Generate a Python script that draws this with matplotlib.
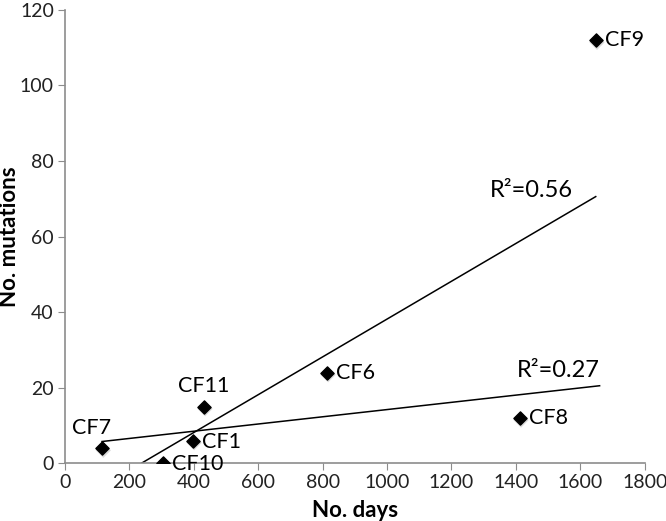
import numpy as np
import matplotlib
matplotlib.use("Agg")
import matplotlib.pyplot as plt

plt.rcParams['font.family'] = ['Lato', 'DejaVu Sans']

# patients, follow-up days and mutation counts
names = ["CF7", "CF10", "CF1", "CF11", "CF6", "CF8", "CF9"]
days = np.array([115, 305, 397, 431, 813, 1412, 1648])
mutations = np.array([4, 0, 6, 15, 24, 12, 112])

# label offsets (pixels) and alignment per point
label_pos = {
    "CF7": ((-10, 10), "center", "bottom"),
    "CF11": ((0, 11), "center", "bottom"),
    "CF1": ((9, -1), "left", "center"),
    "CF10": ((9, -1), "left", "center"),
    "CF6": ((9, 0), "left", "center"),
    "CF8": ((9, 0), "left", "center"),
    "CF9": ((9, 0), "left", "center"),
}

fig = plt.figure(figsize=(6.66, 5.21), dpi=100)
ax = fig.add_axes([0.0976, 0.111, 0.8704, 0.870])

# trend line without CF9
m = days < 1600
k1, b1 = np.polyfit(days[m], mutations[m], 1)
x1 = np.array([days.min(), 1660])
ax.plot(x1, k1 * x1 + b1, color="black", lw=1.1)

# trend line with all points, clipped at zero
k2, b2 = np.polyfit(days, mutations, 1)
x2 = np.array([-b2 / k2, days.max()])
ax.plot(x2, k2 * x2 + b2, color="black", lw=1.1)

ax.scatter(days + 4, mutations - 0.6, marker="D", s=60, color="#999999",
           alpha=0.35, edgecolors="none", zorder=2)
ax.scatter(days, mutations, marker="D", s=45, color="black", zorder=3)

for n, x, y in zip(names, days, mutations):
    off, ha, va = label_pos[n]
    ax.annotate(n, (x, y), xytext=off, textcoords="offset pixels",
                ha=ha, va=va, fontsize=15.5)

ax.text(1318, 70.5, "R²=0.56", fontsize=17, ha="left", va="baseline")
ax.text(1403, 22.8, "R²=0.27", fontsize=17, ha="left", va="baseline")

ax.set_xlim(0, 1800)
ax.set_ylim(0, 120)
ax.set_xticks(np.arange(0, 1801, 200))
ax.set_yticks(np.arange(0, 121, 20))
for s in ["top", "right"]:
    ax.spines[s].set_visible(False)
for s in ["left", "bottom"]:
    ax.spines[s].set_color("#8c8c8c")
    ax.spines[s].set_linewidth(1.2)
ax.tick_params(direction="out", length=5, color="#8c8c8c", labelsize=14,
               labelcolor="#222222", pad=3)
ax.set_xlabel("No. days", fontsize=16, fontweight="bold")
ax.set_ylabel("No. mutations", fontsize=16, fontweight="bold")
ax.xaxis.set_label_coords(0.5, -0.082)
ax.yaxis.set_label_coords(-0.077, 0.5)

fig.savefig("out.png", dpi=100)
